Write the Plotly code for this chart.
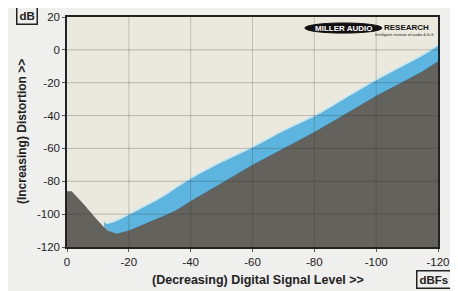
import plotly.graph_objects as go

# ---- data ----
floor_level = [0, -1.5, -5, -10, -13, -16, -20, -25, -30, -35, -40, -50, -60,
               -70, -80, -90, -100, -110, -115, -120]
floor_db = [-86, -86, -93, -104, -110, -112, -110, -106, -102, -98, -92, -81,
            -70, -60, -50, -39, -28, -18, -13, -7]

band_level = [-12, -13, -15, -20, -25, -30, -35, -40, -50, -60, -70, -80,
              -90, -100, -110, -115, -120]
band_top_db = [-104, -105.5, -104.5, -100, -95, -90, -84, -78, -68, -59, -49,
               -40, -29, -18, -8, -3, 3]

x_ticks = [0, -20, -40, -60, -80, -100, -120]
x_tick_labels = ["0", "-20", "-40", "-60", "-80", "-100", "-120"]
y_ticks = [20, 0, -20, -40, -60, -80, -100, -120]
y_tick_labels = ["20", "0", "-20", "-40", "-60", "-80", "-100", "-120"]

Y_MIN, Y_MAX = -120, 20
FONT = "Liberation Sans, Arial, sans-serif"

fig = go.Figure()

# blue band (area up to band top, later covered by floor)
fig.add_trace(go.Scatter(
    x=band_level + [band_level[-1], band_level[0]],
    y=band_top_db + [Y_MIN, Y_MIN],
    fill="toself", fillcolor="#5db5df", mode="none", hoverinfo="skip"))
fig.add_trace(go.Scatter(
    x=band_level, y=band_top_db, mode="lines",
    line=dict(color="#c4e8f6", width=1.6, shape="spline"), hoverinfo="skip"))
# dark floor
fig.add_trace(go.Scatter(
    x=floor_level + [floor_level[-1], floor_level[0]],
    y=floor_db + [Y_MIN, Y_MIN],
    fill="toself", fillcolor="#64625d", mode="none", hoverinfo="skip"))

shapes = []
for v in x_ticks[1:-1]:
    shapes.append(dict(type="line", xref="x", yref="y", x0=v, x1=v,
                       y0=Y_MIN, y1=Y_MAX, layer="above",
                       line=dict(color="rgba(40,40,30,0.22)", width=1)))
for v in y_ticks[1:-1]:
    shapes.append(dict(type="line", xref="x", yref="y", x0=0, x1=-120,
                       y0=v, y1=v, layer="above",
                       line=dict(color="rgba(40,40,30,0.25)", width=1)))

# logo
shapes.append(dict(type="circle", xref="paper", yref="paper",
                   x0=0.641, x1=0.849, y0=0.930, y1=0.974,
                   fillcolor="#111111", line=dict(color="#111111", width=1),
                   layer="above"))

def ann(text, x, y, size, color="#222222", xanchor="center", yanchor="middle", **kw):
    return dict(text=text, xref="paper", yref="paper", x=x, y=y,
                xanchor=xanchor, yanchor=yanchor, showarrow=False,
                font=dict(family=FONT, size=size, color=color), **kw)

annotations = [
    ann("<b>MILLER AUDIO</b>", 0.745, 0.952, 8, color="white"),
    ann("<b>RESEARCH</b>", 0.849, 0.956, 8, color="#111111", xanchor="left"),
    ann("Intelligent reviews of audio &amp; hi-fi", 0.995, 0.925, 4, xanchor="right"),
    ann("<b>(Decreasing) Digital Signal Level >></b>", 0.515, -0.1435, 12.5),
    ann("<b>(Increasing) Distortion >></b>", -0.121, 0.5, 12, textangle=-90),
    ann("<b>dB</b>", -0.108, 1.0065, 11.5, bordercolor="#222222", borderwidth=1.5, borderpad=2),
    ann("<b>dBFs</b>", 0.989, -0.141, 11.5, bordercolor="#222222", borderwidth=1.5, borderpad=2),
]

# page body has an 8px default margin, so the figure is sized to fit the window
fig.update_layout(
    width=450, height=283,
    margin=dict(l=59, r=20, t=9, b=44),
    paper_bgcolor="#efefed", plot_bgcolor="#ebe9dd",
    showlegend=False, shapes=shapes, annotations=annotations,
    font=dict(family=FONT, color="#222222"),
)
fig.update_xaxes(range=[0, -120], tickvals=x_ticks, ticktext=x_tick_labels,
                 showgrid=False, zeroline=False, showline=True, mirror=True,
                 linecolor="#222222", linewidth=1.5, ticks="outside", ticklen=3,
                 tickcolor="#555555", tickfont=dict(family=FONT, size=11.5, color="#222222"),
                 tickprefix="<b>", ticksuffix="</b>", automargin=False)
fig.update_yaxes(range=[Y_MIN, Y_MAX], tickvals=y_ticks, ticktext=y_tick_labels,
                 showgrid=False, zeroline=False, showline=True, mirror=True,
                 linecolor="#222222", linewidth=1.5, ticks="outside", ticklen=3,
                 tickcolor="#555555", tickfont=dict(family=FONT, size=11.5, color="#222222"),
                 tickprefix="<b>", ticksuffix="</b>", automargin=False)

fig.write_html("out.html")
